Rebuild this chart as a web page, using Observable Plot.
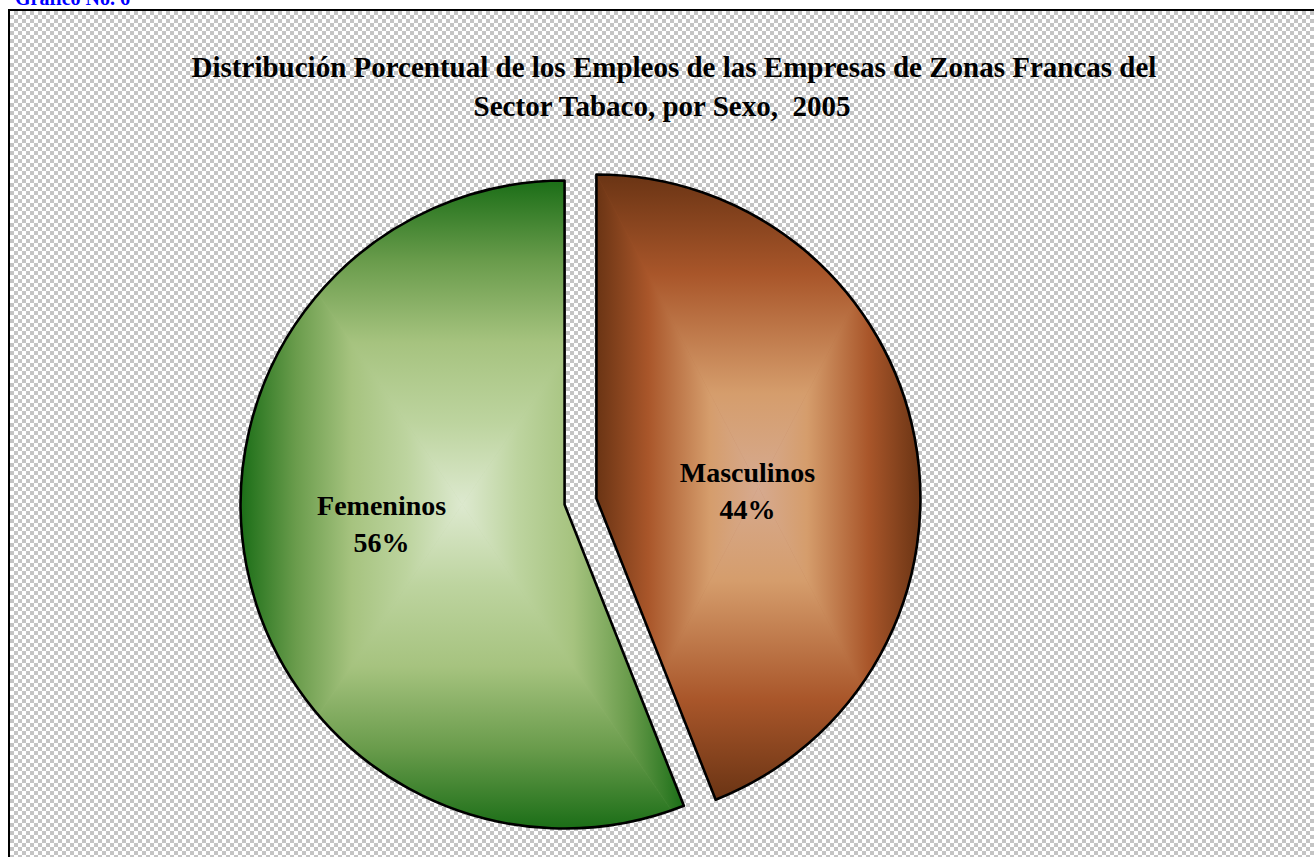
<!DOCTYPE html>
<html><head><meta charset="utf-8">
<script src="https://cdn.jsdelivr.net/npm/d3@7"></script>
<script src="https://cdn.jsdelivr.net/npm/@observablehq/plot@0.6"></script>
<style>
html,body{margin:0;padding:0;background:#fff;width:1314px;height:857px;overflow:hidden;font-family:"Liberation Serif","Times New Roman",serif;}
#frame{position:absolute;left:8px;top:9px;width:1320px;height:860px;border-top:2px solid #000;border-left:2px solid #000;background-color:#fff;background-image:conic-gradient(#c4c4c4 25%, #fff 0 50%, #c4c4c4 0 75%, #fff 0);background-size:8px 8px;}
#graf{position:absolute;left:15px;top:-12px;color:#0000ff;font-weight:bold;font-size:20px;line-height:1;white-space:pre;}
.t{position:absolute;font-weight:bold;font-size:29px;white-space:pre;line-height:1;transform:translateX(-50%);color:#000;}
#chart{position:absolute;left:0;top:0;}
</style></head><body>
<div id="graf">Gráfico No. 6</div>
<div id="frame"></div>
<div id="chart"></div>
<div class="t" id="t1" style="left:674px;top:53px"></div>
<div class="t" id="t2" style="left:662px;top:92px"></div>
<script>
// ---- data ----
const titleLines = ["Distribución Porcentual de los Empleos de las Empresas de Zonas Francas del", "Sector Tabaco, por Sexo,  2005"];
const categories = ["Masculinos", "Femeninos"];
const shares = [44, 56];
const shareLabels = ["44%", "56%"];

// ---- styles / layout ----
const gradientStops = {
  Masculinos: [[0, "#d6aa90"], [0.3, "#d59d6c"], [0.68, "#a9562a"], [1, "#6a3414"]],
  Femeninos: [[0, "#dde9cf"], [0.25, "#bdd49f"], [0.5, "#a6c37f"], [0.75, "#6a9c4c"], [1, "#1b6e17"]]
};
const R = 324, CX = 580.5, CY = 501.5, explode = 0.05;

document.getElementById("t1").textContent = titleLines[0];
document.getElementById("t2").textContent = titleLines[1];

const table = categories.map((c, i) => ({category: c, share: shares[i], label: c + "\n" + shareLabels[i]}));
const arcs = d3.pie().sort(null).value(d => d.share)(table);
arcs.forEach(a => {
  a.mid = (a.startAngle + a.endAngle) / 2;
  a.ox = Math.sin(a.mid) * explode;
  a.oy = Math.cos(a.mid) * explode;
});

function slices(index, scales) {
  const {x, y} = scales;
  const r = x(1) - x(0);
  const g = d3.create("svg:g");
  arcs.forEach((a, i) => {
    const cx = x(a.ox), cy = y(a.oy);
    const d = d3.arc().innerRadius(0).outerRadius(r)(a);
    const pts = [[0, 0],
      [Math.sin(a.startAngle) * r, -Math.cos(a.startAngle) * r],
      [Math.sin(a.endAngle) * r, -Math.cos(a.endAngle) * r]];
    for (let k = 0; k <= 4; k++) {
      const ang = k * Math.PI / 2;
      if (ang >= a.startAngle && ang <= a.endAngle) pts.push([Math.sin(ang) * r, -Math.cos(ang) * r]);
    }
    const x0 = d3.min(pts, p => p[0]), x1 = d3.max(pts, p => p[0]);
    const y0 = d3.min(pts, p => p[1]), y1 = d3.max(pts, p => p[1]);
    const gx = (x0 + x1) / 2, gy = (y0 + y1) / 2;
    const sg = g.append("g").attr("transform", `translate(${cx},${cy})`);
    const defs = sg.append("defs");
    const cid = "clip" + i;
    defs.append("clipPath").attr("id", cid).append("path").attr("d", d);
    const stops = gradientStops[a.data.category];
    const dirs = [
      {id: "gt" + i, to: [gx, y0], tri: [[gx, gy], [x0, y0], [x1, y0]]},
      {id: "gb" + i, to: [gx, y1], tri: [[gx, gy], [x0, y1], [x1, y1]]},
      {id: "gl" + i, to: [x0, gy], tri: [[gx, gy], [x0, y0], [x0, y1]]},
      {id: "gr" + i, to: [x1, gy], tri: [[gx, gy], [x1, y0], [x1, y1]]}
    ];
    const body = sg.append("g").attr("clip-path", `url(#${cid})`);
    body.append("path").attr("d", d).attr("fill", stops[Math.floor(stops.length / 2)][1]);
    dirs.forEach(dd => {
      const lg = defs.append("linearGradient").attr("id", dd.id).attr("gradientUnits", "userSpaceOnUse")
        .attr("x1", gx).attr("y1", gy).attr("x2", dd.to[0]).attr("y2", dd.to[1]);
      stops.forEach(s => lg.append("stop").attr("offset", s[0]).attr("stop-color", s[1]));
      body.append("polygon").attr("points", dd.tri.map(p => p.join(",")).join(" "))
        .attr("fill", `url(#${dd.id})`).attr("stroke", `url(#${dd.id})`).attr("stroke-width", 0.6);
    });
    sg.append("path").attr("d", d).attr("fill", "none").attr("stroke", "#000")
      .attr("stroke-width", 2.6).attr("stroke-linejoin", "round");
  });
  return g.node();
}

const k = 0.52;
const lx = a => a.ox + Math.sin(a.mid) * k;
const ly = a => a.oy + Math.cos(a.mid) * k;
const textOpts = {
  x: lx, y: ly, text: a => a.data.label,
  fontFamily: "Liberation Serif, Times New Roman, serif", fontSize: 28, fontWeight: "bold",
  fill: "#000", lineHeight: 1.32, textAnchor: "middle", lineAnchor: "middle"
};

const chart = Plot.plot({
  width: 1314, height: 857, margin: 0,
  style: {background: "transparent", overflow: "visible"},
  x: {domain: [-1, 1], range: [CX - R, CX + R], axis: null},
  y: {domain: [-1, 1], range: [CY + R, CY - R], axis: null},
  marks: [
    slices,
    Plot.text(arcs.filter(a => a.data.category === "Masculinos"), {...textOpts, dx: -15, dy: 21}),
    Plot.text(arcs.filter(a => a.data.category === "Femeninos"), {...textOpts, dx: -18, dy: -15})
  ]
});
document.getElementById("chart").appendChild(chart);
</script>
</body></html>
